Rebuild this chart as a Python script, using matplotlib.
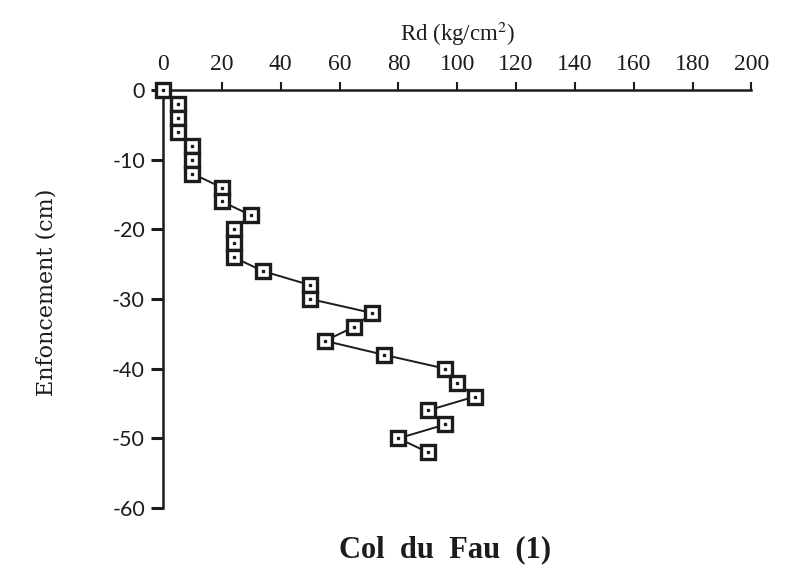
#Penetrometer profile: Col du Fau (1)
import matplotlib
matplotlib.use("Agg")
import matplotlib.pyplot as plt

plt.rcParams["mathtext.fontset"] = "stix"
plt.rcParams["axes.unicode_minus"] = False

#Depth (cm) and dynamic resistance Rd (kg/cm2)
depth = [0, -2, -4, -6, -8, -10, -12, -14, -16, -18, -20, -22, -24, -26,
         -28, -30, -32, -34, -36, -38, -40, -42, -44, -46, -48, -50, -52]
rd = [0, 5, 5, 5, 10, 10, 10, 20, 20, 30, 24, 24, 24, 34,
      50, 50, 71, 65, 55, 75, 96, 100, 106, 90, 96, 80, 90]

x_ticks = [0, 20, 40, 60, 80, 100, 120, 140, 160, 180, 200]
y_ticks = [0, -10, -20, -30, -40, -50, -60]

ink = "#1c1c1c"

fig = plt.figure(figsize=(7.89, 5.68), dpi=100)
ax = fig.add_axes([0.2066, 0.1056, 0.7458, 0.7359])

ax.plot(rd, depth, color=ink, linewidth=1.4, marker="s", markersize=9.5,
        markerfacecolor="white", markeredgecolor=ink, markeredgewidth=2.4,
        clip_on=False, zorder=3)
ax.plot(rd, depth, linestyle="none", marker="s", markersize=2,
        color=ink, clip_on=False, zorder=4)

ax.set_xlim(0, 200)
ax.set_ylim(-60, 0)

#Only top and left spines
ax.spines["right"].set_visible(False)
ax.spines["bottom"].set_visible(False)
for s in ("top", "left"):
    ax.spines[s].set_linewidth(1.8)
    ax.spines[s].set_color(ink)

ax.xaxis.tick_top()
ax.xaxis.set_label_position("top")
ax.set_xticks(x_ticks)
ax.set_yticks(y_ticks)
ax.tick_params(axis="x", direction="out", length=6, width=1.5, pad=5,
               colors=ink, labelsize=17)
ax.tick_params(axis="y", direction="out", length=9, width=2.2, pad=4,
               colors=ink, labelsize=15.5)
for lab in ax.get_xticklabels():
    lab.set_family("Liberation Serif")
for lab in ax.get_yticklabels():
    lab.set_family("Lato")

ax.set_xlabel("Rd (kg/cm$^{2}$)", family="Liberation Serif", fontsize=16.5,
              color=ink, labelpad=9)
ax.set_ylabel("Enfoncement (cm)", family="DejaVu Serif", fontsize=16,
              color=ink)
ax.yaxis.set_label_coords(-0.18, 0.515)

fig.text(0.564, 0.019, "Col  du  Fau  (1)", family="Liberation Serif",
         fontweight="bold", fontsize=22, color=ink, ha="center", va="baseline")

fig.savefig("out.png", dpi=100, facecolor="white")
